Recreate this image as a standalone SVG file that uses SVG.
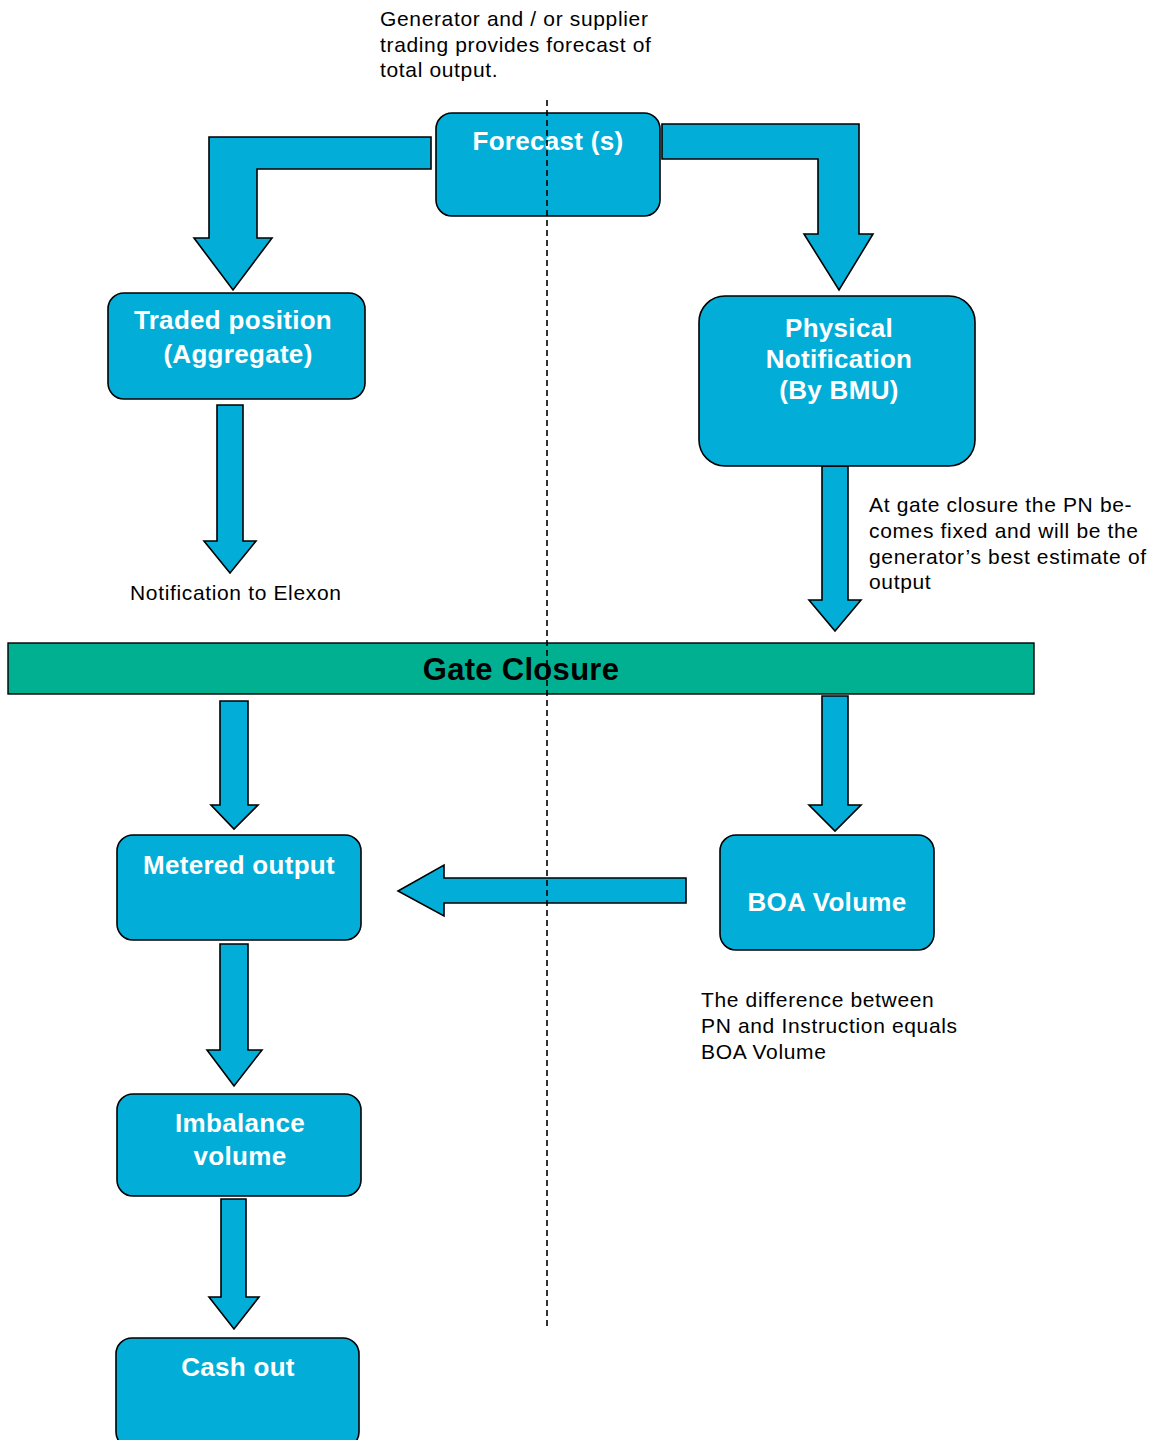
<svg xmlns="http://www.w3.org/2000/svg" width="1154" height="1440" viewBox="0 0 1154 1440">
<style>
.box{fill:#02AED8;stroke:#000;stroke-width:1.6}
.arr{fill:#02AED8;stroke:#000;stroke-width:1.6;stroke-linejoin:miter}
.lbl{font-family:"Liberation Sans",Arial,sans-serif;font-weight:bold;font-size:26px;fill:#fff;text-anchor:middle;letter-spacing:0.3px}
.note{font-family:"Liberation Sans",Arial,sans-serif;font-size:21px;fill:#000;letter-spacing:0.65px}
</style>
<rect width="1154" height="1440" fill="#fff"/>
<g id="connectors">
<path class="arr" d="M431,137 H209 V238 H194 L233,290 L272,238 H257 V169 H431 Z"/>
<path class="arr" d="M662,124 H859 V234 H873 L839,290 L804,234 H818 V159 H662 Z"/>
<path class="arr" d="M217,405 H243 V541 H256 L230,573 L204,541 H217 Z"/>
<path class="arr" d="M822,466 H848 V600 H861 L835,631 L809,600 H822 Z"/>
<path class="arr" d="M220,701 H248 V805 H258 L234,829 L211,805 H220 Z"/>
<path class="arr" d="M822,696 H848 V805 H861 L835,831 L809,805 H822 Z"/>
<path class="arr" d="M686,878 V903 H444 V916 L398,891 L444,865 V878 Z"/>
<path class="arr" d="M220,944 H248 V1050 H262 L234,1086 L207,1050 H220 Z"/>
<path class="arr" d="M221,1199 H246 V1297 H259 L234,1329 L209,1297 H221 Z"/>
</g>
<g id="forecast">
<rect class="box" x="436" y="113" width="224" height="103" rx="16"/>
<text class="lbl" x="548" y="150">Forecast (s)</text>
</g>
<g id="traded">
<rect class="box" x="108" y="293" width="257" height="106" rx="16"/>
<text class="lbl" x="233" y="329">Traded position</text>
<text class="lbl" x="238" y="363">(Aggregate)</text>
</g>
<g id="physical">
<rect class="box" x="699" y="296" width="276" height="170" rx="26"/>
<text class="lbl" x="839" y="337">Physical</text>
<text class="lbl" x="839" y="368">Notification</text>
<text class="lbl" x="839" y="399">(By BMU)</text>
</g>
<g id="gate">
<rect x="8" y="643" width="1026" height="51" fill="#00B091" stroke="#000" stroke-width="1.4"/>
<text x="521" y="680" font-family="'Liberation Sans Narrow','Liberation Sans',Arial,sans-serif" font-weight="bold" font-size="31" fill="#000" text-anchor="middle" letter-spacing="0.3">Gate Closure</text>
</g>
<g id="metered">
<rect class="box" x="117" y="835" width="244" height="105" rx="16"/>
<text class="lbl" x="239" y="874">Metered output</text>
</g>
<g id="boa">
<rect class="box" x="720" y="835" width="214" height="115" rx="16"/>
<text class="lbl" x="827" y="911">BOA Volume</text>
</g>
<g id="imbalance">
<rect class="box" x="117" y="1094" width="244" height="102" rx="16"/>
<text class="lbl" x="240" y="1132">Imbalance</text>
<text class="lbl" x="240" y="1165">volume</text>
</g>
<g id="cashout">
<rect class="box" x="116" y="1338" width="243" height="110" rx="16"/>
<text class="lbl" x="238" y="1376">Cash out</text>
</g>
<g id="notes">
<text class="note" x="380" y="26">Generator and / or supplier</text>
<text class="note" x="380" y="52">trading provides forecast of</text>
<text class="note" x="380" y="77">total output.</text>
<text class="note" x="130" y="600">Notification to Elexon</text>
<text class="note" x="869" y="512">At gate closure the PN be-</text>
<text class="note" x="869" y="538">comes fixed and will be the</text>
<text class="note" x="869" y="564">generator’s best estimate of</text>
<text class="note" x="869" y="589">output</text>
<text class="note" x="701" y="1007">The difference between</text>
<text class="note" x="701" y="1033">PN and Instruction equals</text>
<text class="note" x="701" y="1059">BOA Volume</text>
</g>
<line id="divider" x1="547" y1="100" x2="547" y2="1330" stroke="#000" stroke-width="1.6" stroke-dasharray="6,4"/>
</svg>
